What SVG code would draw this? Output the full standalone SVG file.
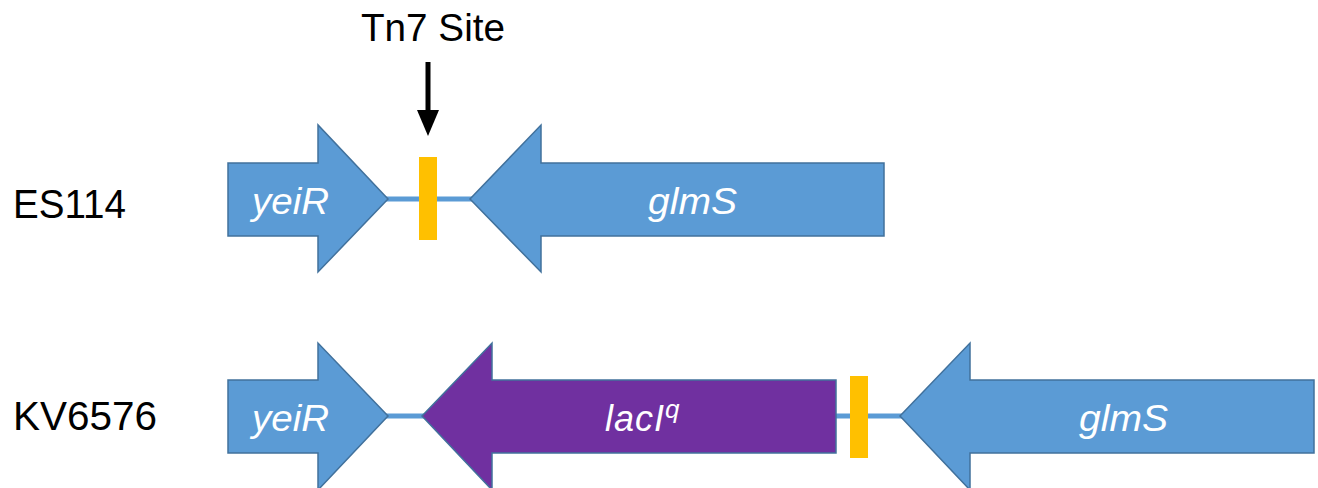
<svg xmlns="http://www.w3.org/2000/svg" width="1318" height="488" viewBox="0 0 1318 488">
  <style>
    .gene { fill: #5B9BD5; stroke: #41719C; stroke-width: 1.5; stroke-linejoin: miter; }
    .gene.lac { fill: #7030A0; }
    .spacer { stroke: #5B9BD5; stroke-width: 5; fill: none; }
    .site { fill: #FFC000; }
    .strain { font-family: "Liberation Sans", Arial, sans-serif; font-size: 40px; fill: #000; }
    .glabel { font-family: "Liberation Sans", Arial, sans-serif; font-size: 36px; font-style: italic; fill: #fff; }
    .title { font-family: "Liberation Sans", Arial, sans-serif; font-size: 38px; fill: #000; }
  </style>
  <rect width="1318" height="488" fill="#fff"/>

  <!-- strain labels -->
  <g id="label-es114"><text class="strain" x="13" y="218" textLength="113" lengthAdjust="spacingAndGlyphs">ES114</text></g>
  <g id="label-kv6576"><text class="strain" x="13" y="430" textLength="144" lengthAdjust="spacingAndGlyphs">KV6576</text></g>

  <!-- insertion site marker -->
  <g id="tn7-label">
    <text class="title" x="361" y="41" textLength="144" lengthAdjust="spacingAndGlyphs">Tn7 Site</text>
  </g>

  <!-- intergenic lines and arrow -->
  <g id="connectors">
    <line class="spacer" x1="386" y1="199" x2="472" y2="199"/>
    <line class="spacer" x1="386" y1="416" x2="424" y2="416"/>
    <line class="spacer" x1="834" y1="416" x2="902" y2="416"/>
    <line x1="428" y1="62" x2="428" y2="112" stroke="#000" stroke-width="5"/>
    <polygon points="417,110 439,110 428,136" fill="#000"/>
  </g>

  <!-- ES114 locus -->
  <g id="es114-yeiR">
    <polygon class="gene" points="228,163 318,163 318,125 388,199 318,272 318,236 228,236"/>
    <text class="glabel" x="252" y="214" textLength="77" lengthAdjust="spacingAndGlyphs">yeiR</text>
  </g>
  <g id="es114-site"><rect class="site" x="419" y="157" width="18" height="83"/></g>
  <g id="es114-glmS">
    <polygon class="gene" points="884,163 541,163 541,125 470,199 541,272 541,236 884,236"/>
    <text class="glabel" x="648" y="214" textLength="89" lengthAdjust="spacingAndGlyphs">glmS</text>
  </g>

  <!-- KV6576 locus -->
  <g id="kv6576-yeiR">
    <polygon class="gene" points="228,380 318,380 318,343 388,416 318,490 318,453 228,453"/>
    <text class="glabel" x="252" y="431" textLength="77" lengthAdjust="spacingAndGlyphs">yeiR</text>
  </g>
  <g id="kv6576-lacIq">
    <polygon class="gene lac" points="836,380 492,380 492,343 422,416 492,490 492,453 836,453"/>
    <text class="glabel" x="605" y="431" font-size="38" letter-spacing="1">lacI<tspan font-size="26" dy="-13">q</tspan></text>
  </g>
  <g id="kv6576-site"><rect class="site" x="850" y="376" width="18" height="82"/></g>
  <g id="kv6576-glmS">
    <polygon class="gene" points="1314,380 970,380 970,343 900,416 970,490 970,453 1314,453"/>
    <text class="glabel" x="1079" y="431" textLength="89" lengthAdjust="spacingAndGlyphs">glmS</text>
  </g>
</svg>
